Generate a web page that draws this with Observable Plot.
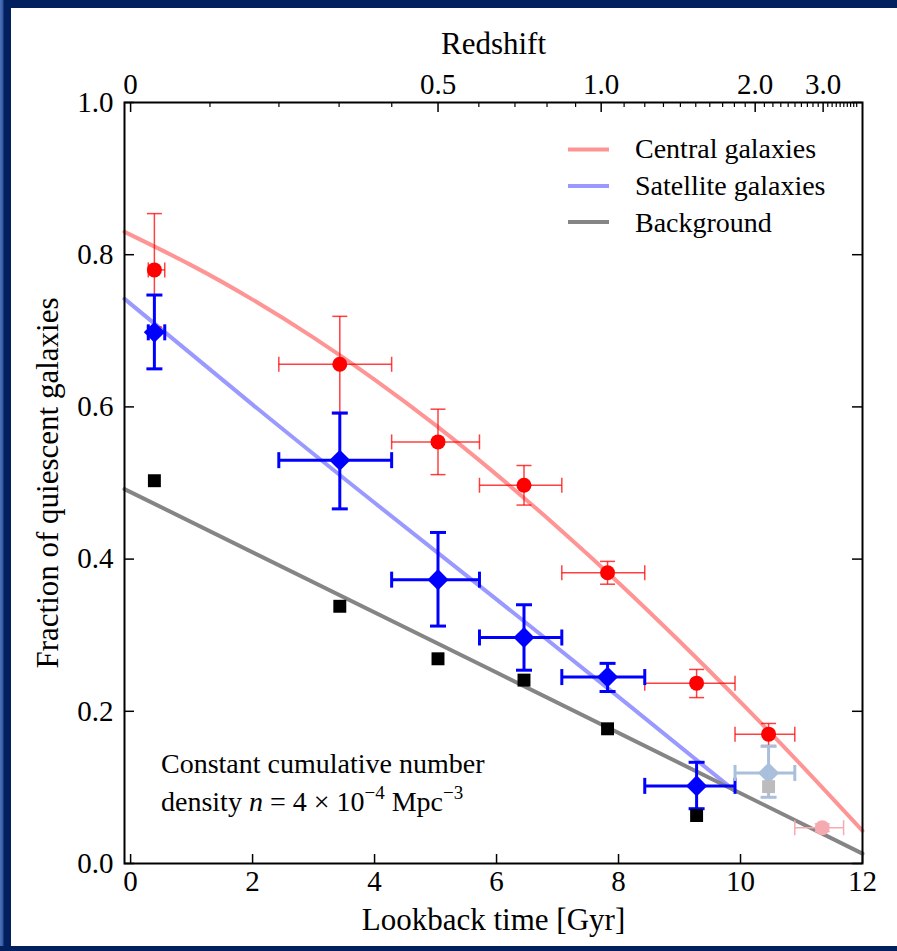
<!DOCTYPE html>
<html>
<head>
<meta charset="utf-8">
<script src="https://cdn.jsdelivr.net/npm/d3@7"></script>
<script src="https://cdn.jsdelivr.net/npm/@observablehq/plot@0.6"></script>
<style>
html, body { margin: 0; padding: 0; background: #fff; overflow: hidden; width: 897px; height: 951px; }
#wrap { position: relative; width: 897px; height: 951px; overflow: hidden; background: #fff; }
#wrap svg { position: absolute; left: 0; top: 0; }
.bar { position: absolute; background: #03205e; z-index: 2; }
</style>
</head>
<body>
<div id="wrap">
  <div class="bar" style="left:0;top:0;width:897px;height:8px;"></div>
  <div class="bar" style="left:0;top:0;width:11px;height:951px;background:linear-gradient(to right,#4f74ba 0px,#2f559e 3px,#03205e 4px);"></div>
  <div class="bar" style="left:0;top:946px;width:897px;height:5px;"></div>
</div>
<script>
// ---------- data ----------
const binLookback = [0.39, 3.43, 5.04, 6.45, 7.82, 9.28, 10.46, 11.34];
const binLow      = [0.29, 2.43, 4.28, 5.72, 7.07, 8.43, 9.91, 10.89];
const binHigh     = [0.56, 4.28, 5.72, 7.07, 8.43, 9.91, 10.89, 11.69];

const centralFrac  = [0.780, 0.656, 0.554, 0.497, 0.382, 0.237, 0.170, 0.047];
const centralLow   = [0.705, 0.591, 0.511, 0.471, 0.367, 0.218, 0.155, 0.042];
const centralHigh  = [0.854, 0.719, 0.597, 0.523, 0.397, 0.255, 0.184, 0.052];
const centralFaded = [false, false, false, false, false, false, false, true];

const satelliteFrac  = [0.698, 0.530, 0.373, 0.297, 0.245, 0.102, 0.119];
const satelliteLow   = [0.650, 0.466, 0.312, 0.254, 0.226, 0.072, 0.087];
const satelliteHigh  = [0.747, 0.592, 0.435, 0.340, 0.263, 0.133, 0.154];
const satelliteFaded = [false, false, false, false, false, false, true];

const backgroundFrac  = [0.503, 0.338, 0.269, 0.241, 0.177, 0.063, 0.101];
const backgroundFaded = [false, false, false, false, false, false, true];

const centralFitTime = [-0.1, 1, 2, 3, 4, 5, 6, 7, 8, 9, 10, 11, 12];
const centralFitFrac = [0.830, 0.786, 0.741, 0.691, 0.636, 0.576, 0.511, 0.442, 0.369, 0.292, 0.212, 0.129, 0.043];
const satelliteFitTime = [-0.1, 2, 4, 6, 8, 9.88];
const satelliteFitFrac = [0.742, 0.603, 0.474, 0.347, 0.219, 0.097];
const backgroundFitTime = [-0.1, 6, 12];
const backgroundFitFrac = [0.492, 0.251, 0.013];

const xTicks = [0, 2, 4, 6, 8, 10, 12];
const yTicks = [0, 0.2, 0.4, 0.6, 0.8, 1.0];
const redshiftMajor = [0, 0.5, 1.0, 2.0, 3.0];
const redshiftLabels = ["0", "0.5", "1.0", "2.0", "3.0"];
const legendLabels = ["Central galaxies", "Satellite galaxies", "Background"];

// ---------- helpers ----------
// lookback time (Gyr) for flat LCDM, H0 = 70, Om = 0.3 (maps redshift onto the time axis)
function lookback(z) {
  const tH = 977.8 / 70, n = 600, h = z / n;
  let s = 0;
  for (let i = 0; i < n; i++) {
    const zz = (i + 0.5) * h;
    s += 1 / ((1 + zz) * Math.sqrt(0.3 * (1 + zz) ** 3 + 0.7));
  }
  return tH * s * h;
}
const zMinor = d3.range(1, 40).map(i => i / 10)
  .filter(z => !redshiftMajor.some(m => Math.abs(m - z) < 1e-9))
  .map(lookback).filter(t => t <= 12);
const zMajorT = redshiftMajor.map(lookback);
const zLabelData = redshiftMajor.map((z, i) => ({t: zMajorT[i], label: redshiftLabels[i]}));

const central = binLookback.map((x, i) => ({x, lo: binLow[i], hi: binHigh[i], y: centralFrac[i], ylo: centralLow[i], yhi: centralHigh[i], faded: centralFaded[i]}));
const satellite = satelliteFrac.map((y, i) => ({x: binLookback[i], lo: binLow[i], hi: binHigh[i], y, ylo: satelliteLow[i], yhi: satelliteHigh[i], faded: satelliteFaded[i]}));
const background = backgroundFrac.map((y, i) => ({x: binLookback[i], y, faded: backgroundFaded[i]}));
const centralFit = centralFitTime.map((t, i) => ({t, f: centralFitFrac[i]}));
const satelliteFit = satelliteFitTime.map((t, i) => ({t, f: satelliteFitFrac[i]}));
const backgroundFit = backgroundFitTime.map((t, i) => ({t, f: backgroundFitFrac[i]}));

const hCap = {draw(ctx, size) { const w = Math.sqrt(size / Math.PI); ctx.moveTo(-w, 0); ctx.lineTo(w, 0); }};
const vCap = {draw(ctx, size) { const w = Math.sqrt(size / Math.PI); ctx.moveTo(0, -w); ctx.lineTo(0, w); }};

function errorMarks(data, stroke, sw, capR) {
  const o = {stroke, strokeWidth: sw};
  return [
    Plot.link(data, {x1: "lo", x2: "hi", y1: "y", y2: "y", ...o}),
    Plot.link(data, {x1: "x", x2: "x", y1: "ylo", y2: "yhi", ...o}),
    Plot.dot(data, {x: "lo", y: "y", symbol: vCap, r: capR, fill: "none", ...o}),
    Plot.dot(data, {x: "hi", y: "y", symbol: vCap, r: capR, fill: "none", ...o}),
    Plot.dot(data, {x: "x", y: "ylo", symbol: hCap, r: capR, fill: "none", ...o}),
    Plot.dot(data, {x: "x", y: "yhi", symbol: hCap, r: capR, fill: "none", ...o})
  ];
}

const W = 897, H = 951, mL = 124, mR = 35, mT = 102, mB = 88;
const frameW = W - mL - mR, frameH = H - mT - mB;
const FONT = "'Liberation Serif', 'DejaVu Serif', serif";

const RED = "#ff0000", BLUE = "#0000ff";
const fadedRed = "#f6aab0", fadedBlue = "#aabfdc", fadedGray = "#bcbcbc";
const fitRed = "rgba(255,0,0,0.42)", fitBlue = "rgba(0,0,255,0.40)", fitGray = "#858585";

const cMain = central.filter(d => !d.faded), cFade = central.filter(d => d.faded);
const sMain = satellite.filter(d => !d.faded), sFade = satellite.filter(d => d.faded);
const bMain = background.filter(d => !d.faded), bFade = background.filter(d => d.faded);

const chart = Plot.plot({
  width: W, height: H,
  marginLeft: mL, marginRight: mR, marginTop: mT, marginBottom: mB,
  x: {domain: [-0.1, 12]},
  y: {domain: [0, 1]},
  style: {fontFamily: FONT, fontSize: "29px", background: "transparent", color: "black"},
  marks: [
    // axes (labels)
    Plot.axisX({ticks: xTicks, tickSize: 0, tickPadding: 7, tickFormat: d => String(d), label: null, fontSize: 29}),
    Plot.axisY({ticks: yTicks, tickSize: 0, tickPadding: 11, tickFormat: d => d.toFixed(1), label: null, fontSize: 29}),
    Plot.text(zLabelData, {x: "t", text: "label", frameAnchor: "top", dy: -9, lineAnchor: "bottom", fontSize: 29}),
    // inward ticks
    Plot.tickX(xTicks, {x: d => d, insetTop: frameH - 9, stroke: "black", strokeWidth: 1.5}),
    Plot.tickY(yTicks, {y: d => d, insetRight: frameW - 10, stroke: "black", strokeWidth: 1.5}),
    Plot.tickY(yTicks, {y: d => d, insetLeft: frameW - 10, stroke: "black", strokeWidth: 1.5}),
    Plot.tickX(zMajorT, {x: d => d, insetBottom: frameH - 10, stroke: "black", strokeWidth: 1.5}),
    Plot.tickX(zMinor, {x: d => d, insetBottom: frameH - 5, stroke: "black", strokeWidth: 1.2}),
    // axis titles
    Plot.text(["Redshift"], {frameAnchor: "top", dy: -58, lineAnchor: "middle", textAnchor: "middle", fontSize: 31}),
    Plot.text(["Lookback time [Gyr]"], {frameAnchor: "bottom", dy: 57, lineAnchor: "middle", textAnchor: "middle", fontSize: 31}),
    Plot.text(["Fraction of quiescent galaxies"], {frameAnchor: "left", dx: -76, rotate: -90, lineAnchor: "middle", textAnchor: "middle", fontSize: 31}),
    // fits
    Plot.line(centralFit, {x: "t", y: "f", stroke: fitRed, strokeWidth: 4, curve: "natural"}),
    Plot.line(satelliteFit, {x: "t", y: "f", stroke: fitBlue, strokeWidth: 4, curve: "natural"}),
    Plot.line(backgroundFit, {x: "t", y: "f", stroke: fitGray, strokeWidth: 4, curve: "natural"}),
    // central
    ...errorMarks(cMain, "rgba(255,0,0,0.75)", 1.5, 7.5),
    ...errorMarks(cFade, fadedRed, 1.5, 7.5),
    Plot.dot(cMain, {x: "x", y: "y", symbol: "circle", r: 7.5, fill: RED, stroke: "none"}),
    Plot.dot(cFade, {x: "x", y: "y", symbol: "circle", r: 7.5, fill: fadedRed, stroke: "none"}),
    // satellite
    ...errorMarks(sMain, BLUE, 3, 8),
    ...errorMarks(sFade, fadedBlue, 3, 8),
    Plot.dot(sMain, {x: "x", y: "y", symbol: "diamond2", r: 9.5, fill: BLUE, stroke: "none"}),
    Plot.dot(sFade, {x: "x", y: "y", symbol: "diamond2", r: 9.5, fill: fadedBlue, stroke: "none"}),
    // background
    Plot.dot(bMain, {x: "x", y: "y", symbol: "square", r: 7.3, fill: "black", stroke: "none"}),
    Plot.dot(bFade, {x: "x", y: "y", symbol: "square", r: 7.3, fill: fadedGray, stroke: "none"}),
    Plot.frame({stroke: "black", strokeWidth: 2})
  ]
});

document.getElementById("wrap").prepend(chart);

// ---------- legend & annotation ----------
const svg = d3.select(chart);
const leg = svg.append("g").attr("font-family", FONT).attr("font-size", 28).attr("text-anchor", "start");
const legColors = [fitRed, fitBlue, fitGray];
const legLineY = [149.5, 186, 222];
const legTextY = [158, 195, 231.5];
legendLabels.forEach((lab, i) => {
  leg.append("line").attr("x1", 568).attr("x2", 609).attr("y1", legLineY[i]).attr("y2", legLineY[i])
    .attr("stroke", legColors[i]).attr("stroke-width", 4);
  leg.append("text").attr("x", 635).attr("y", legTextY[i]).text(lab);
});

const ann = svg.append("g").attr("font-family", FONT).attr("font-size", 28).attr("text-anchor", "start");
ann.append("text").attr("x", 161).attr("y", 773).text("Constant cumulative number");
const t2 = ann.append("text").attr("x", 161).attr("y", 811);
t2.append("tspan").text("density ");
t2.append("tspan").attr("font-style", "italic").text("n");
t2.append("tspan").text(" = 4 × 10");
t2.append("tspan").attr("font-size", 19).attr("dy", -12).text("−4");
t2.append("tspan").attr("dy", 12).text(" Mpc");
t2.append("tspan").attr("font-size", 19).attr("dy", -12).text("−3");
</script>
</body>
</html>
